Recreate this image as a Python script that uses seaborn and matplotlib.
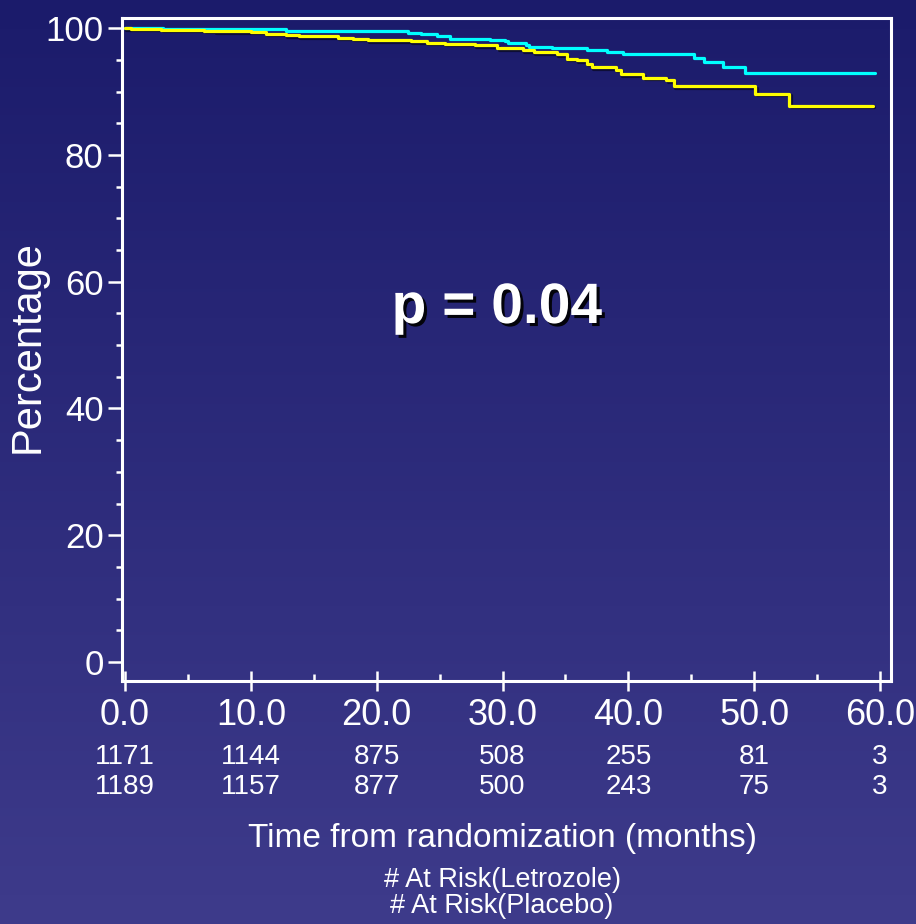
import numpy as np
import pandas as pd
import matplotlib
matplotlib.use("Agg")
import matplotlib.pyplot as plt
import matplotlib.patheffects as pe
from matplotlib import font_manager
from matplotlib.ticker import MultipleLocator, FixedLocator
import seaborn as sns

# ---------------- data ----------------
letrozole_t = [0, 3.0, 8.7, 12.8, 16.7, 22.5, 23.5, 24.8, 25.8, 29.0, 30.2, 30.4, 31.9,
               32.1, 33.9, 36.7, 38.3, 39.6, 45.2, 46.0, 47.5, 49.3, 59.6]
letrozole_s = [100, 99.9, 99.8, 99.6, 99.5, 99.3, 99.0, 98.7, 98.3, 98.1, 97.9, 97.6, 97.3,
               97.1, 96.9, 96.6, 96.3, 95.9, 95.3, 94.7, 93.9, 92.9, 92.9]

placebo_t = [0, 0.5, 2.9, 6.3, 7.1, 10.0, 11.2, 12.8, 13.8, 16.9, 18.1, 19.3, 22.7, 24.0,
             25.4, 27.8, 29.6, 31.6, 32.5, 34.3, 35.1, 35.9, 36.7, 37.1, 39.0, 39.4,
             41.2, 43.0, 43.6, 50.1, 52.8, 59.4]
placebo_s = [100, 99.9, 99.7, 99.6, 99.5, 99.4, 99.1, 98.9, 98.7, 98.5, 98.3, 98.1, 97.9,
             97.7, 97.5, 97.3, 96.8, 96.5, 96.2, 95.9, 95.2, 94.9, 94.4, 93.8, 93.4, 92.7,
             92.2, 91.8, 90.8, 89.6, 87.7, 87.7]

x_ticks = [0, 10, 20, 30, 40, 50, 60]
x_tick_labels = ["0.0", "10.0", "20.0", "30.0", "40.0", "50.0", "60.0"]
y_ticks = [0, 20, 40, 60, 80, 100]
at_risk_letrozole = [1171, 1144, 875, 508, 255, 81, 3]
at_risk_placebo = [1189, 1157, 877, 500, 243, 75, 3]

# ---------------- fonts ----------------
names = {f.name for f in font_manager.fontManager.ttflist}
narrow = None
for cand in ["Liberation Sans Narrow", "Arial Narrow"]:
    if cand in names:
        narrow = cand
        break

if narrow is not None:
    FAM = [narrow, "Liberation Sans", "DejaVu Sans"]
    S_XT, S_YT, S_AR, S_XL, S_ARL = 30, 29, 23, 30, 23
else:
    FAM = ["Liberation Sans", "DejaVu Sans"]
    S_XT, S_YT, S_AR, S_XL, S_ARL = 26, 25, 20, 24, 19.5

# ---------------- style ----------------
sns.set_style("ticks")
plt.rcParams["font.family"] = FAM
plt.rcParams["text.color"] = "white"

W, H, DPI = 916, 924, 100
fig = plt.figure(figsize=(W / DPI, H / DPI), dpi=DPI)

# gradient background
bg = fig.add_axes([0, 0, 1, 1], zorder=-10)
top = np.array([27, 27, 107]) / 255.0
bot = np.array([62, 59, 139]) / 255.0
g = np.linspace(0, 1, 256)[:, None]
img = top[None, None, :] * (1 - g[:, :, None]) + bot[None, None, :] * g[:, :, None]
img = np.repeat(img, 2, axis=1)
bg.imshow(img, aspect="auto", extent=[0, 1, 0, 1], origin="upper")
bg.set_axis_off()

ax = fig.add_axes([121.7 / W, 1 - 681 / H, (891 - 121.7) / W, (681 - 18) / H])
ax.set_facecolor("none")

df_l = pd.DataFrame({"t": letrozole_t, "s": letrozole_s})
df_p = pd.DataFrame({"t": placebo_t, "s": placebo_s})
sns.lineplot(data=df_l, x="t", y="s", ax=ax, color="#00ffff", linewidth=2.3,
             drawstyle="steps-post", estimator=None, sort=False)
sns.lineplot(data=df_p, x="t", y="s", ax=ax, color="#ffff00", linewidth=2.3,
             drawstyle="steps-post", estimator=None, sort=False,
             path_effects=[pe.SimpleLineShadow(offset=(1, -1), shadow_color="black", alpha=0.5),
                           pe.Normal()])

ax.set_xlim(-0.26, 60.87)
ax.set_ylim(-3.0, 101.6)

for sp in ax.spines.values():
    sp.set_visible(True)
    sp.set_color("white")
    sp.set_linewidth(2.2)

ax.xaxis.set_major_locator(FixedLocator(x_ticks))
ax.set_xticklabels(x_tick_labels)
ax.xaxis.set_minor_locator(MultipleLocator(5))
ax.yaxis.set_major_locator(FixedLocator(y_ticks))
ax.set_yticklabels([str(v) for v in y_ticks])
ax.yaxis.set_minor_locator(MultipleLocator(5))

ax.tick_params(axis="x", which="major", direction="inout", length=14, width=1.8,
               colors="white", labelsize=S_XT, pad=5)
ax.tick_params(axis="x", which="minor", direction="in", length=5, width=1.8, colors="white")
ax.tick_params(axis="y", which="major", direction="out", length=10, width=1.8,
               colors="white", labelsize=S_YT, pad=3)
ax.tick_params(axis="y", which="minor", direction="out", length=4.5, width=1.8, colors="white")
ax.set_xlabel("")
ax.set_ylabel("Percentage", fontsize=30, color="white",
              family=["Liberation Sans", "DejaVu Sans"])
ax.yaxis.label.set_verticalalignment("center")
ax.yaxis.set_label_coords((28 - 121.7) / (891 - 121.7), (681 - 347) / (681 - 18))

# at-risk numbers
trans = matplotlib.transforms.blended_transform_factory(ax.transData, ax.transAxes)
ah = (681 - 18)
for xv, n1, n2 in zip(x_ticks, at_risk_letrozole, at_risk_placebo):
    ax.text(xv, (681 - 757) / ah, str(n1), transform=trans, ha="center", va="center",
            fontsize=S_AR, color="white")
    ax.text(xv, (681 - 787) / ah, str(n2), transform=trans, ha="center", va="center",
            fontsize=S_AR, color="white")

fig.text(502 / W, 1 - 838 / H, "Time from randomization (months)", ha="center", va="center",
         fontsize=S_XL, color="white")
fig.text(502 / W, 1 - 880 / H, "# At Risk(Letrozole)", ha="center", va="center",
         fontsize=S_ARL, color="white")
fig.text(502 / W, 1 - 906 / H, "# At Risk(Placebo)", ha="center", va="center",
         fontsize=S_ARL, color="white")

ax.text(497 / W, 1 - 308 / H, "p = 0.04", transform=fig.transFigure, ha="center", va="center",
        fontsize=41, fontweight="bold", color="white",
        family=["Liberation Sans", "DejaVu Sans"],
        path_effects=[pe.withSimplePatchShadow(offset=(2.2, -2.2), shadow_rgbFace="black", alpha=0.9)])

fig.savefig("out.png", dpi=DPI)
